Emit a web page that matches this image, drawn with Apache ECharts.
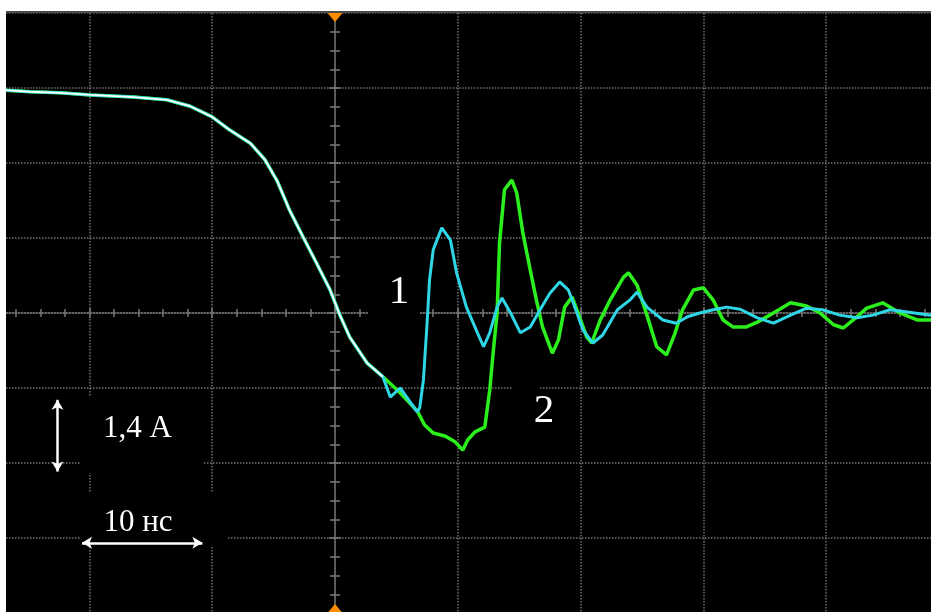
<!DOCTYPE html>
<html>
<head>
<meta charset="utf-8">
<script src="https://cdn.jsdelivr.net/npm/echarts@6/dist/echarts.min.js"></script>
<style>
html,body{margin:0;padding:0;background:#fff;}
#chart{width:931px;height:612px;}
</style>
</head>
<body>
<div id="chart"></div>
<script>
// time in ns (10 ns / div), current in A (1.4 A / div)
const commonT = [-28.0,-26.8,-24.8,-22.4,-19.9,-16.4,-13.7,-11.8,-10.0,-8.6,-6.9,-5.7,-4.7,-3.7,-2.6,-1.5,-0.4,0.4,1.2,2.6,3.9];
const commonI = [4.17,4.16,4.13,4.11,4.07,4.03,3.98,3.86,3.66,3.42,3.17,2.86,2.46,1.92,1.42,0.93,0.43,-0.04,-0.45,-0.93,-1.19];

const cyanT = [4.5,5.3,5.9,6.7,6.9,7.2,7.5,7.7,8.0,8.3,8.7,9.4,9.9,10.7,11.6,12.1,12.6,13.2,13.6,14.3,15.1,15.9,16.7,17.5,18.3,19.0,19.4,20.2,21.0,21.8,23.0,24.0,24.6,25.4,26.7,27.8,28.7,29.7,30.8,31.9,33.0,34.4,35.7,37.1,38.4,39.7,41.1,42.5,43.8,45.2,46.6,48.5,50.0];
const cyanI = [-1.57,-1.40,-1.59,-1.85,-1.77,-1.25,-0.19,0.62,1.18,1.36,1.59,1.36,0.75,0.11,-0.37,-0.63,-0.37,0.11,0.28,0.00,-0.37,-0.26,0.06,0.37,0.58,0.43,0.19,-0.32,-0.56,-0.41,0.06,0.24,0.39,0.11,-0.13,-0.19,-0.07,0.00,0.06,0.11,0.07,-0.09,-0.19,-0.04,0.09,0.06,-0.04,-0.09,-0.04,0.06,0.02,-0.04,-0.02];

const greenT = [5.3,6.7,7.3,8.0,9.0,9.8,10.4,10.8,11.4,12.2,12.6,12.9,13.2,13.4,13.8,14.4,14.8,15.3,15.9,16.4,16.9,17.7,18.2,18.7,19.3,19.8,20.5,20.9,21.6,22.4,23.5,23.9,24.6,25.4,26.2,27.0,27.7,28.3,29.2,30.0,30.8,31.6,32.4,33.5,34.4,35.7,37.1,38.4,39.5,40.6,41.4,42.2,43.3,44.6,46.0,47.4,48.5,50.0];
const greenI = [-1.49,-1.83,-2.09,-2.24,-2.30,-2.41,-2.56,-2.37,-2.22,-2.13,-1.44,-0.69,0.00,1.31,2.30,2.48,2.24,1.49,0.80,0.24,-0.26,-0.75,-0.50,0.11,0.30,0.00,-0.45,-0.56,-0.13,0.24,0.67,0.75,0.52,-0.04,-0.63,-0.78,-0.37,0.06,0.43,0.47,0.24,-0.13,-0.26,-0.26,-0.17,0.00,0.19,0.13,0.00,-0.22,-0.28,-0.13,0.09,0.19,0.00,-0.13,-0.13,-0.11];

const xTicks = {min: -50, max: 50, step: 10};
const yTicks = {min: -5.6, max: 5.6, step: 1.4};

function pairs(ts, is) { return ts.map((t, k) => [t, is[k]]); }
const commonData = pairs(commonT, commonI);
const cyanData = commonData.concat(pairs(cyanT, cyanI));
const greenData = commonData.concat(pairs(greenT, greenI));

const gridColor = '#707070';
const dotted = {color: gridColor, width: 1.5, type: [1.5, 1.5]};
const tickStyle = {color: '#7a7a7a', width: 1.5};

const chart = echarts.init(document.getElementById('chart'), null, {renderer: 'canvas'});

function xAx(pos, show) {
  return {
    type: 'value', min: xTicks.min, max: xTicks.max, interval: xTicks.step,
    position: pos,
    axisLine: {show: show, onZero: true, lineStyle: dotted},
    axisTick: {show: true, length: 5, lineStyle: tickStyle},
    minorTick: {show: true, splitNumber: 5, length: 4, lineStyle: tickStyle},
    axisLabel: {show: false},
    splitLine: {show: show, lineStyle: dotted},
    minorSplitLine: {show: false}
  };
}
function yAx(pos, show) {
  return {
    type: 'value', min: yTicks.min, max: yTicks.max, interval: yTicks.step,
    position: pos,
    axisLine: {show: show, onZero: true, lineStyle: dotted},
    axisTick: {show: true, length: 6, lineStyle: tickStyle},
    minorTick: {show: true, splitNumber: 4, length: 5, lineStyle: tickStyle},
    axisLabel: {show: false},
    splitLine: {show: show, lineStyle: dotted},
    minorSplitLine: {show: false}
  };
}

const serifFont = '"Liberation Serif", "Times New Roman", serif';

const option = {
  animation: false,
  backgroundColor: '#000',
  grid: {left: -279, right: -18, top: 13, bottom: -1, outerBoundsMode: 'none', containLabel: false, show: false},
  xAxis: [xAx('bottom', true), xAx('top', false)],
  yAxis: [yAx('left', true), yAx('right', false)],
  series: [
    {
      name: '2', type: 'line', data: greenData, showSymbol: false, symbol: 'none',
      lineStyle: {color: '#2cf01c', width: 3.5}, z: 3, clip: false
    },
    {
      name: '1', type: 'line', data: cyanData, showSymbol: false, symbol: 'none',
      lineStyle: {color: '#2fd6e6', width: 3}, z: 4, clip: false,
      markLine: {
        silent: true, symbol: ['arrow', 'arrow'], symbolSize: [9, 10],
        label: {show: false},
        lineStyle: {color: '#fff', width: 2.5, type: 'solid'},
        data: [
          [{coord: [-22.6, -1.62]}, {coord: [-22.6, -2.96]}],
          [{coord: [-20.6, -4.29]}, {coord: [-10.8, -4.29]}]
        ]
      },
      markPoint: {
        silent: true,
        data: [
          {coord: [0, 5.6], symbol: 'triangle', symbolRotate: 180, symbolSize: [20, 12], symbolOffset: [0, 3], itemStyle: {color: '#ff8c00'}, label: {show: false}},
          {coord: [0, -5.6], symbol: 'triangle', symbolSize: [20, 12], symbolOffset: [0, -3], itemStyle: {color: '#ff8c00'}, label: {show: false}}
        ]
      }
    },
    {
      name: 'overlap', type: 'line', data: commonData, showSymbol: false, symbol: 'none',
      lineStyle: {color: '#ffffff', width: 1.8}, z: 5, clip: false
    }
  ],
  graphic: [
    {type: 'rect', z: 1, shape: {x: 80, y: 397, width: 123, height: 76}, style: {fill: '#000'}},
    {type: 'rect', z: 1, shape: {x: 80, y: 493, width: 148, height: 53}, style: {fill: '#000'}},
    {type: 'rect', z: 1, shape: {x: 368, y: 268, width: 52, height: 50}, style: {fill: '#000'}},
    {type: 'rect', z: 1, shape: {x: 512, y: 384, width: 28, height: 10}, style: {fill: '#000'}},
    {type: 'text', z: 20, style: {text: '1,4 A', x: 137.5, y: 429, align: 'center', verticalAlign: 'middle', font: '31px ' + serifFont, fill: '#fff'}},
    {type: 'text', z: 20, style: {text: '10 нс', x: 138, y: 523, align: 'center', verticalAlign: 'middle', font: '31px ' + serifFont, fill: '#fff'}},
    {type: 'text', z: 20, style: {text: '1', x: 399, y: 292, align: 'center', verticalAlign: 'middle', font: '41px ' + serifFont, fill: '#fff'}},
    {type: 'text', z: 20, style: {text: '2', x: 544, y: 411, align: 'center', verticalAlign: 'middle', font: '41px ' + serifFont, fill: '#fff'}},
    {type: 'rect', z: 100, shape: {x: 0, y: 0, width: 931, height: 11}, style: {fill: '#fff'}},
    {type: 'rect', z: 100, shape: {x: 0, y: 0, width: 6, height: 612}, style: {fill: '#fff'}},
    {type: 'rect', z: 100, shape: {x: 6, y: 11, width: 925, height: 2}, style: {fill: '#4a4a4a'}}
  ]
};
chart.setOption(option);
</script>
</body>
</html>
